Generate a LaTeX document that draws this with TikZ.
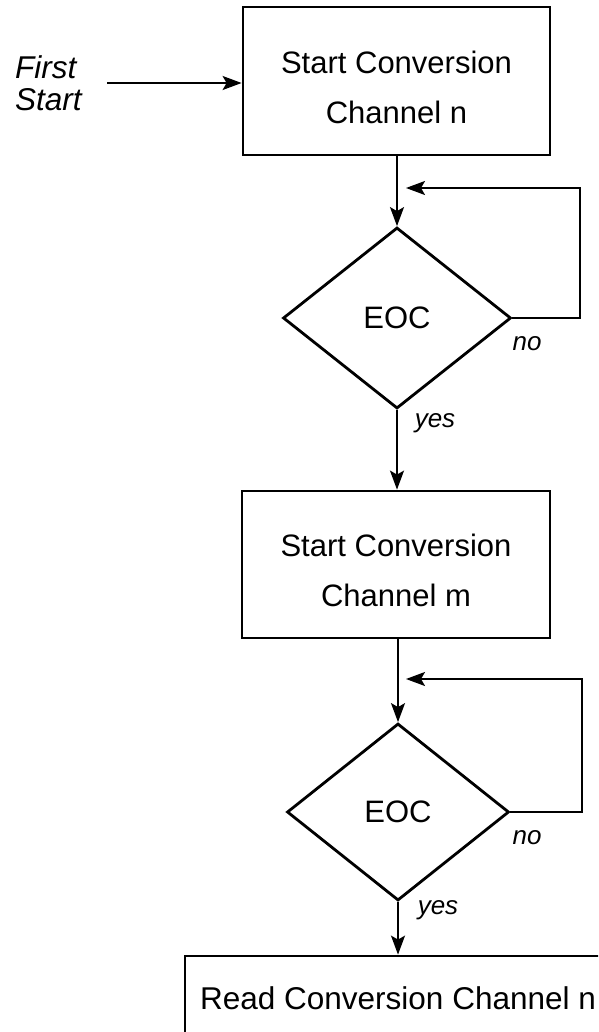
\documentclass[tikz,border=0pt]{standalone}
\usepackage{fontspec}
\setmainfont{Liberation Sans}
\usetikzlibrary{shapes.geometric,arrows.meta,calc}

\tikzset{
  box/.style={draw, line width=2.8pt, rectangle, inner sep=0pt},
  decision/.style={draw, line width=2.8pt, diamond, inner sep=0pt,
    font=\fontsize{31}{37}\selectfont},
  boxtext/.style={inner sep=0pt, align=center, font=\fontsize{31}{50}\selectfont},
  branch/.style={inner sep=0pt, font=\fontsize{26}{30}\selectfont\itshape},
  flow/.style={line width=1.8pt, -{Stealth[length=19pt,width=14pt,inset=4pt]}},
}

\begin{document}
\begin{tikzpicture}[x=1pt, y=-1pt]
  \useasboundingbox (0,0) rectangle (598,1032);
  \clip (0,0) rectangle (598,1032);

  % entry label
  \node[inner sep=0pt, anchor=west, align=left,
        font=\fontsize{31.5}{32}\selectfont\itshape] (first) at (15,83) {First\\Start};
  \coordinate (entry) at (107,83);

  % first conversion
  \node[box, minimum width=307pt, minimum height=148pt] (b1) at (396.5,81) {};
  \node[boxtext] (t1) at (396.5,87) {Start Conversion\\Channel n};

  \node[decision, minimum width=228pt, minimum height=181pt] (d1) at (397,318) {EOC};
  \coordinate (loop1) at (580,188);

  % second conversion
  \node[box, minimum width=308pt, minimum height=147pt] (b2) at (396,564.5) {};
  \node[boxtext] (t2) at (396,570) {Start Conversion\\Channel m};

  \node[decision, minimum width=222pt, minimum height=177pt] (d2) at (398,812) {EOC};
  \coordinate (loop2) at (582,679);

  % read result
  \node[box, minimum width=455pt, minimum height=124pt] (b3) at (412.5,1018) {};
  \node[inner sep=0pt, anchor=west, font=\fontsize{31.5}{37}\selectfont] (t3) at (200,998)
    {Read Conversion Channel n};

  % branch labels
  \node[branch] (no1) at (527,344) {no};
  \node[branch] (yes1) at (435,423) {yes};
  \node[branch] (no2) at (527,838) {no};
  \node[branch] (yes2) at (438,910) {yes};

  % connectors
  \draw[flow] (entry) -- (entry -| b1.west);
  \draw[flow] (d1.north |- b1.south) -- (d1.north);
  \draw[flow] (d1.east) -| (loop1) -- ([xshift=9pt]d1.north |- loop1);
  \draw[flow] (d1.south) -- (d1.south |- b2.north);
  \draw[flow] (d2.north |- b2.south) -- (d2.north);
  \draw[flow] (d2.east) -| (loop2) -- ([xshift=8pt]d2.north |- loop2);
  \draw[flow] (d2.south) -- (d2.south |- b3.north);
\end{tikzpicture}
\end{document}
